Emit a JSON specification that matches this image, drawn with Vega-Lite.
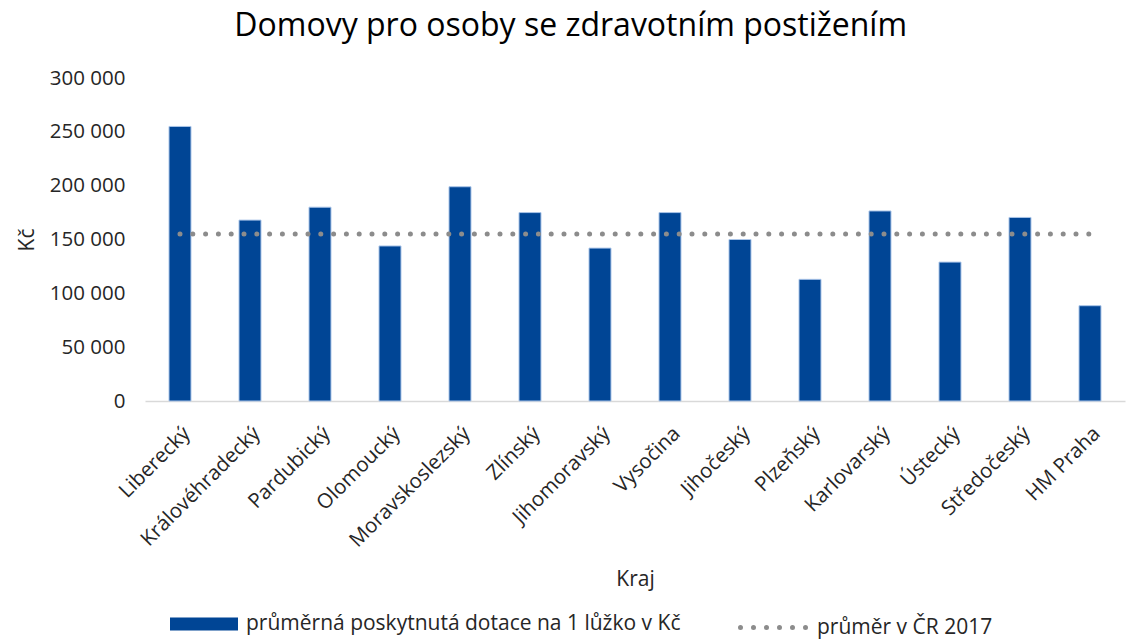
{
  "$schema": "https://vega.github.io/schema/vega-lite/v6.json",
  "width": 980,
  "height": 323,
  "autosize": {"type": "none"},
  "padding": {"left": 145, "top": 78, "right": 10, "bottom": 238},
  "background": "white",
  "config": {
    "locale": {"number": {"decimal": ",", "thousands": " ", "grouping": [3], "currency": ["", " Kč"]}},
    "view": {"stroke": null},
    "font": "Open Sans"
  },
  "title": {
    "text": "Domovy pro osoby se zdravotním postižením",
    "fontSize": 32,
    "fontWeight": "normal",
    "color": "#000000",
    "frame": "bounds",
    "anchor": "middle",
    "offset": 25
  },
  "data": {
    "values": [
      {"kraj": "Liberecký", "dotace": 255000, "prumer": 155000},
      {"kraj": "Královéhradecký", "dotace": 168000, "prumer": 155000},
      {"kraj": "Pardubický", "dotace": 180000, "prumer": 155000},
      {"kraj": "Olomoucký", "dotace": 144000, "prumer": 155000},
      {"kraj": "Moravskoslezský", "dotace": 199000, "prumer": 155000},
      {"kraj": "Zlínský", "dotace": 175000, "prumer": 155000},
      {"kraj": "Jihomoravský", "dotace": 142000, "prumer": 155000},
      {"kraj": "Vysočina", "dotace": 175000, "prumer": 155000},
      {"kraj": "Jihočeský", "dotace": 150000, "prumer": 155000},
      {"kraj": "Plzeňský", "dotace": 113000, "prumer": 155000},
      {"kraj": "Karlovarský", "dotace": 176500, "prumer": 155000},
      {"kraj": "Ústecký", "dotace": 129000, "prumer": 155000},
      {"kraj": "Středočeský", "dotace": 170500, "prumer": 155000},
      {"kraj": "HM Praha", "dotace": 88500, "prumer": 155000}
    ]
  },
  "encoding": {
    "x": {
      "field": "kraj",
      "type": "nominal",
      "sort": null,
      "scale": {"paddingInner": 0.686, "paddingOuter": 0.343},
      "axis": {
        "title": "Kraj",
        "titleFontSize": 21,
        "titleFontWeight": "normal",
        "titleColor": "#262626",
        "titlePadding": 17,
        "labelAngle": -45,
        "labelFontSize": 20.5,
        "labelColor": "#262626",
        "labelPadding": 22,
        "labelOverlap": false,
        "ticks": false,
        "tickSize": 0,
        "domainColor": "#d9d9d9",
        "domainWidth": 1.5
      }
    }
  },
  "layer": [
    {
      "mark": {"type": "bar", "stroke": "#a9c4e8", "strokeWidth": 1},
      "encoding": {
        "y": {
          "field": "dotace",
          "type": "quantitative",
          "scale": {"domain": [0, 300000]},
          "axis": {
            "title": "Kč",
            "titleFontSize": 21,
            "titleFontWeight": "normal",
            "titleColor": "#262626",
            "titlePadding": 12,
            "format": ",d",
            "values": [0, 50000, 100000, 150000, 200000, 250000, 300000],
            "labelFontSize": 20.5,
            "labelColor": "#262626",
            "labelPadding": 20,
            "labelOverlap": false,
            "ticks": false,
            "tickSize": 0,
            "domain": false,
            "grid": false
          }
        },
        "fill": {
          "datum": "průměrná poskytnutá dotace na 1 lůžko v Kč",
          "type": "nominal",
          "scale": {"range": ["#004595"]},
          "legend": {
            "title": null,
            "orient": "none",
            "legendX": 25,
            "legendY": 512,
            "symbolType": "M-1,-0.19H1V0.19H-1Z",
            "symbolSize": 4624,
            "symbolStrokeWidth": 0,
            "labelOffset": 8,
            "labelFontSize": 21,
            "labelColor": "#262626",
            "labelLimit": 700
          }
        }
      }
    },
    {
      "mark": {"type": "line", "strokeWidth": 5, "strokeDash": [0, 12.8], "strokeCap": "round"},
      "encoding": {
        "y": {"field": "prumer", "type": "quantitative"},
        "stroke": {
          "datum": "průměr v ČR 2017",
          "type": "nominal",
          "scale": {"range": ["#8c8c8c"]},
          "legend": {
            "title": null,
            "orient": "none",
            "legendX": 593,
            "legendY": 512,
            "symbolType": "stroke",
            "symbolSize": 4900,
            "symbolStrokeWidth": 5,
            "symbolDash": [0, 13],
            "labelOffset": 4,
            "labelFontSize": 21,
            "labelColor": "#262626",
            "labelLimit": 700,
            "encode": {"symbols": {"update": {"strokeCap": {"value": "round"}}}}
          }
        }
      }
    }
  ],
  "resolve": {"scale": {"y": "shared"}}
}
